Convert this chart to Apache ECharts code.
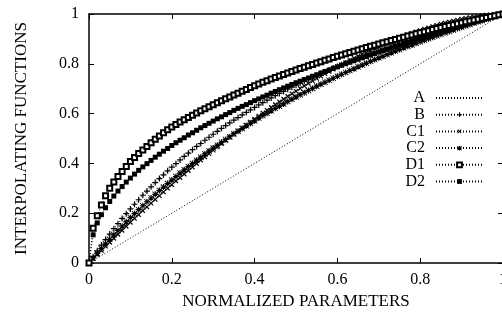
<!DOCTYPE html>
<html>
<head>
<meta charset="utf-8">
<script src="https://cdn.jsdelivr.net/npm/echarts@6.0.0/dist/echarts.min.js"></script>
<style>
html,body{margin:0;padding:0;background:#fff;}
#chart{width:502px;height:320px;}
</style>
</head>
<body>
<div id="chart"></div>
<script>
// x samples (normalized parameter)
var xs = [0,0.01,0.02,0.03,0.04,0.05,0.06,0.07,0.08,0.09,0.10,
0.11,0.12,0.13,0.14,0.15,0.16,0.17,0.18,0.19,0.20,
0.21,0.22,0.23,0.24,0.25,0.26,0.27,0.28,0.29,0.30,
0.31,0.32,0.33,0.34,0.35,0.36,0.37,0.38,0.39,0.40,
0.41,0.42,0.43,0.44,0.45,0.46,0.47,0.48,0.49,0.50,
0.51,0.52,0.53,0.54,0.55,0.56,0.57,0.58,0.59,0.60,
0.61,0.62,0.63,0.64,0.65,0.66,0.67,0.68,0.69,0.70,
0.71,0.72,0.73,0.74,0.75,0.76,0.77,0.78,0.79,0.80,
0.81,0.82,0.83,0.84,0.85,0.86,0.87,0.88,0.89,0.90,
0.91,0.92,0.93,0.94,0.95,0.96,0.97,0.98,0.99,1.00];

var aX = [0, 1];
var aY = [0, 1];

var seriesB = [0,.025,.049,.072,.094,.116,.138,.158,.179,.198,.217,
.236,.254,.272,.289,.306,.323,.339,.354,.370,.385,
.399,.414,.428,.441,.455,.468,.480,.493,.505,.517,
.529,.541,.552,.563,.574,.584,.595,.605,.615,.625,
.635,.644,.654,.663,.672,.681,.689,.698,.706,.714,
.722,.730,.738,.746,.753,.761,.768,.775,.783,.789,
.796,.803,.810,.816,.823,.829,.835,.842,.848,.854,
.860,.865,.871,.877,.882,.888,.893,.899,.904,.909,
.914,.919,.924,.929,.934,.939,.944,.948,.953,.957,
.962,.966,.971,.975,.979,.984,.988,.992,.996,1];

var seriesC1 = [0,.017,.034,.050,.067,.083,.099,.115,.131,.147,.163,
.179,.194,.210,.225,.240,.255,.270,.285,.300,.314,
.329,.343,.357,.371,.385,.399,.413,.426,.439,.453,
.466,.479,.492,.505,.517,.530,.542,.554,.566,.578,
.590,.602,.613,.625,.636,.647,.658,.669,.680,.690,
.701,.711,.721,.731,.741,.750,.760,.769,.778,.787,
.796,.805,.814,.822,.830,.839,.846,.854,.862,.869,
.877,.884,.891,.897,.904,.910,.917,.923,.929,.934,
.940,.945,.950,.955,.960,.964,.968,.972,.976,.980,
.983,.986,.989,.991,.994,.996,.997,.999,1,1];

var seriesC2 = [0,.020,.039,.058,.077,.095,.113,.131,.148,.165,.182,
.198,.214,.230,.246,.261,.276,.291,.305,.319,.333,
.347,.361,.374,.387,.400,.413,.425,.438,.450,.462,
.473,.485,.496,.507,.519,.529,.540,.551,.561,.571,
.582,.592,.601,.611,.621,.630,.639,.649,.658,.667,
.676,.684,.693,.701,.710,.718,.726,.734,.742,.750,
.758,.765,.773,.780,.788,.795,.802,.810,.817,.824,
.830,.837,.844,.851,.857,.864,.870,.876,.883,.889,
.895,.901,.907,.913,.919,.925,.930,.936,.942,.947,
.953,.958,.964,.969,.974,.980,.985,.990,.995,1];

var seriesD1 = [0,.140,.190,.233,.270,.300,.325,.347,.367,.388,.408,
.424,.440,.454,.468,.483,.497,.510,.523,.535,.546,
.556,.566,.575,.584,.593,.602,.611,.619,.628,.636,
.644,.652,.660,.667,.675,.682,.690,.697,.705,.712,
.719,.726,.732,.739,.745,.751,.757,.763,.769,.775,
.781,.786,.792,.797,.803,.808,.814,.819,.825,.830,
.835,.840,.845,.850,.855,.860,.865,.870,.875,.880,
.885,.889,.894,.898,.903,.907,.912,.916,.921,.925,
.929,.933,.938,.942,.946,.950,.954,.957,.961,.965,
.969,.972,.976,.979,.983,.986,.990,.993,.997,1];

var seriesD2 = [0,.113,.161,.194,.222,.247,.269,.289,.307,.325,.341,
.357,.372,.386,.399,.412,.425,.437,.449,.460,.472,
.483,.493,.503,.514,.523,.533,.543,.552,.561,.570,
.579,.587,.596,.604,.613,.621,.629,.636,.644,.652,
.659,.667,.674,.682,.689,.696,.703,.710,.717,.724,
.730,.737,.743,.750,.756,.763,.769,.775,.782,.788,
.794,.800,.806,.812,.818,.824,.829,.835,.841,.847,
.852,.858,.863,.869,.874,.880,.885,.890,.896,.901,
.906,.912,.917,.922,.927,.932,.937,.942,.947,.952,
.957,.962,.967,.972,.976,.981,.986,.991,.995,1];

var xTicks = {min: 0, max: 1, interval: 0.2};
var yTicks = {min: 0, max: 1, interval: 0.2};
var xTitle = 'NORMALIZED PARAMETERS';
var yTitle = 'INTERPOLATING FUNCTIONS';
var legendNames = ['A', 'B', 'C1', 'C2', 'D1', 'D2'];

function pairs(xv, yv) {
  var out = [];
  for (var i = 0; i < yv.length; i++) out.push([xv[i], yv[i]]);
  return out;
}

var FONT = '"Liberation Serif", "DejaVu Serif", serif';
var PLUS = 'path://M4,0h2v4h4v2h-4v4h-2v-4h-4v-2h4z';
var STAR = 'path://M4,0h2v4h4v2h-4v4h-2v-4h-4v-2h4z M1,0L5,4L9,0L10,1L6,5L10,9L9,10L5,6L1,10L0,9L4,5L0,1Z';

var dotted = {color: '#000', width: 1, type: [1, 2]};

function lineSeries(name, yv, symbol, size, extra) {
  var s = {
    name: name,
    type: 'line',
    data: pairs(xs, yv),
    symbol: symbol,
    symbolSize: size,
    showSymbol: true,
    lineStyle: dotted,
    itemStyle: {color: '#000', borderWidth: 0},
    animation: false,
    silent: true
  };
  if (extra) for (var k in extra) s[k] = extra[k];
  return s;
}

var chart = echarts.init(document.getElementById('chart'), null, {renderer: 'canvas'});

var axisCommon = {
  type: 'value',
  splitLine: {show: false},
  axisLine: {show: true, onZero: false, lineStyle: {color: '#000', width: 1.5}},
  axisTick: {show: true, inside: true, length: 5, lineStyle: {color: '#000', width: 1}}
};

var legendData = legendNames.map(function (n) {
  return n === 'A' ? {name: n, itemStyle: {opacity: 0}} : {name: n};
});

chart.setOption({
  backgroundColor: '#fff',
  animation: false,
  grid: {left: 89, top: 14, width: 414, height: 249, containLabel: false, outerBoundsMode: 'none'},
  xAxis: [
    Object.assign({}, axisCommon, {
      position: 'bottom', min: xTicks.min, max: xTicks.max, interval: xTicks.interval,
      axisLabel: {color: '#000', fontFamily: FONT, fontSize: 16, margin: 9},
      name: xTitle, nameLocation: 'middle', nameGap: 27,
      nameTextStyle: {color: '#000', fontFamily: FONT, fontSize: 17}
    }),
    Object.assign({}, axisCommon, {
      position: 'top', min: xTicks.min, max: xTicks.max, interval: xTicks.interval,
      axisLabel: {show: false}
    })
  ],
  yAxis: [
    Object.assign({}, axisCommon, {
      position: 'left', min: yTicks.min, max: yTicks.max, interval: yTicks.interval,
      axisLabel: {color: '#000', fontFamily: FONT, fontSize: 16, margin: 10},
      name: yTitle, nameLocation: 'middle', nameGap: 59,
      nameTextStyle: {color: '#000', fontFamily: FONT, fontSize: 17}
    }),
    Object.assign({}, axisCommon, {
      position: 'right', min: yTicks.min, max: yTicks.max, interval: yTicks.interval,
      axisLabel: {show: false}
    })
  ],
  legend: {
    orient: 'vertical',
    align: 'right',
    right: 13,
    top: 85,
    itemWidth: 47,
    itemHeight: 6,
    itemGap: 0.7,
    selectedMode: false,
    textStyle: {color: '#000', fontFamily: FONT, fontSize: 16, lineHeight: 16, padding: [0, 6, 0, 0]},
    data: legendData
  },
  series: [
    {
      name: 'A', type: 'line', data: pairs(aX, aY), symbol: 'none', showSymbol: false,
      lineStyle: dotted, itemStyle: {color: '#000'}, animation: false, silent: true
    },
    lineSeries('B', seriesB, PLUS, 6),
    lineSeries('C1', seriesC1, PLUS, 6, {symbolRotate: 45}),
    lineSeries('C2', seriesC2, STAR, 6),
    lineSeries('D2', seriesD2, 'rect', 5),
    lineSeries('D1', seriesD1, 'emptyRect', 5, {itemStyle: {color: '#000', borderWidth: 1}})
  ]
});
</script>
</body>
</html>
